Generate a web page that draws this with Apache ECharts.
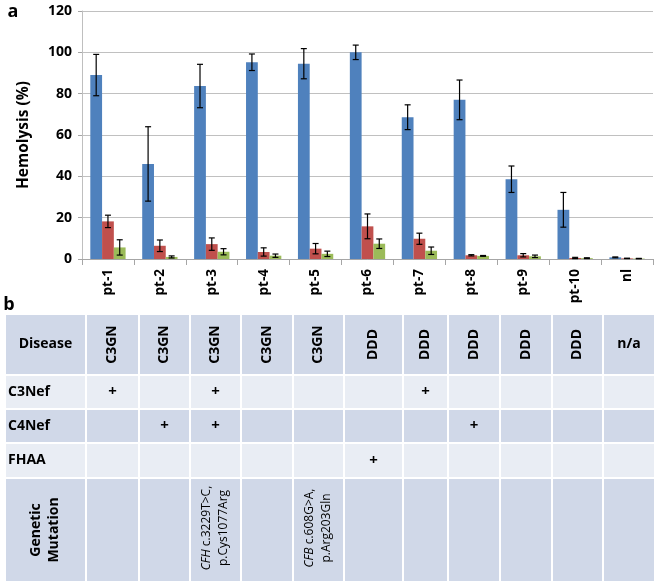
<!DOCTYPE html>
<html>
<head>
<meta charset="utf-8">
<script src="https://cdn.jsdelivr.net/npm/echarts@6/dist/echarts.min.js"></script>
<style>
html,body{margin:0;padding:0;background:#fff;}
#c{width:660px;height:587px;}
</style>
</head>
<body>
<div id="c"></div>
<script>
// ---- Panel a data ----
const categories = ['pt-1','pt-2','pt-3','pt-4','pt-5','pt-6','pt-7','pt-8','pt-9','pt-10','nl'];
const blueVals  = [89, 46, 83.7, 95.2, 94.5, 100, 68.6, 77, 38.6, 23.8, 0.8];
const blueErr   = [10, 18, 10.5, 4, 7.3, 3.5, 6, 9.6, 6.4, 8.4, 0.2];
const redVals   = [18.2, 6.4, 7.2, 3.4, 5, 15.8, 9.8, 1.8, 1.8, 0.5, 0.3];
const redErr    = [3, 2.8, 3, 2, 2.5, 6, 2.7, 0.3, 0.8, 0.3, 0.1];
const greenVals = [5.6, 1.0, 3.5, 1.6, 2.5, 7.4, 4, 1.5, 1.3, 0.4, 0.2];
const greenErr  = [3.7, 0.5, 1.5, 0.8, 1.3, 2.3, 1.8, 0.2, 0.6, 0.2, 0.1];
const yTicks = [0, 20, 40, 60, 80, 100, 120];

// ---- Panel b table data ----
const rowLabels = ['Disease', 'C3Nef', 'C4Nef', 'FHAA', 'Genetic\nMutation'];
const diseases  = ['C3GN','C3GN','C3GN','C3GN','C3GN','DDD','DDD','DDD','DDD','DDD','n/a'];
const c3nef     = ['+','','+','','','','+','','','',''];
const c4nef     = ['','+','+','','','','','+','','',''];
const fhaa      = ['','','','','','+','','','','',''];
const mutGene   = ['','','CFH','','CFB','','','','','',''];
const mutLine1  = ['','',' c.3229T>C,','',' c.608G>A,','','','','','',''];
const mutLine2  = ['','','p.Cys1077Arg','','p.Arg203Gln','','','','','',''];

const FONT = '"Open Sans", sans-serif';
const colors = ['#4F81BD', '#C0504D', '#9BBB59'];
const GAP = 0.32;

function errSeries(vals, errs, idx) {
  return {
    type: 'custom',
    z: 10,
    silent: true,
    data: vals.map((v, i) => [i, v - errs[i], v + errs[i]]),
    renderItem: function (params, api) {
      const band = api.size([1, 0])[0];
      const bw = band * (1 - GAP) / 3;
      const off = (idx - 1) * bw;
      const lo = api.coord([api.value(0), api.value(1)]);
      const hi = api.coord([api.value(0), api.value(2)]);
      const x = lo[0] + off;
      const cap = 3;
      const st = { stroke: '#000', lineWidth: 1.2 };
      return {
        type: 'group',
        children: [
          { type: 'line', shape: { x1: x, y1: lo[1], x2: x, y2: hi[1] }, style: st },
          { type: 'line', shape: { x1: x - cap, y1: lo[1], x2: x + cap, y2: lo[1] }, style: st },
          { type: 'line', shape: { x1: x - cap, y1: hi[1], x2: x + cap, y2: hi[1] }, style: st }
        ]
      };
    }
  };
}

function txt(x, y, text, size, weight, opts) {
  opts = opts || {};
  return {
    type: 'text', x: x, y: y, rotation: opts.rot || 0, z: 2,
    style: Object.assign({
      text: text, fontSize: size, fontWeight: weight, fontFamily: FONT, fill: '#000',
      align: opts.align || 'center', verticalAlign: 'middle', lineHeight: opts.lh || size * 1.25
    }, opts.extra || {})
  };
}

// ---- table graphic ----
const colEdges = [5, 86, 139, 190, 241, 293, 344, 403, 448, 500, 552, 603, 655];
const rowEdges = [314, 375, 409, 443, 478, 582];
const rowFill = ['#D0D8E8', '#E9EDF4', '#D0D8E8', '#E9EDF4', '#D0D8E8'];
const graphics = [];
graphics.push(txt(13, 12, 'a', 18, 'bold'));
graphics.push(txt(9, 305, 'b', 18, 'bold'));
const tableRows = [diseases, c3nef, c4nef, fhaa, null];
for (let r = 0; r < 5; r++) {
  for (let c = 0; c < 12; c++) {
    const x0 = colEdges[c], x1 = colEdges[c + 1], y0 = rowEdges[r], y1 = rowEdges[r + 1];
    graphics.push({
      type: 'rect', shape: { x: x0, y: y0, width: x1 - x0, height: y1 - y0 },
      style: { fill: rowFill[r], stroke: '#fff', lineWidth: 2 }, z: 1
    });
    const cx = (x0 + x1) / 2, cy = (y0 + y1) / 2;
    if (c === 0) {
      if (r === 4) graphics.push(txt(cx, cy, rowLabels[r], 14, 'bold', { rot: Math.PI / 2, lh: 18 }));
      else if (r === 0) graphics.push(txt(cx, cy, rowLabels[r], 14, 'bold'));
      else graphics.push(txt(x0 + 3, cy, rowLabels[r], 14, 'bold', { align: 'left' }));
      continue;
    }
    const k = c - 1;
    if (r === 0) {
      const rot = diseases[k] !== 'n/a';
      graphics.push(txt(cx, cy, diseases[k], 14, 'bold', { rot: rot ? Math.PI / 2 : 0 }));
    } else if (r < 4) {
      const t = tableRows[r][k];
      if (t) graphics.push(txt(cx, cy, t, 15, 'bold'));
    } else if (mutGene[k]) {
      graphics.push(txt(cx, cy - 2, '{i|' + mutGene[k] + '}' + mutLine1[k] + '\n' + mutLine2[k], 12, 'normal', {
        rot: Math.PI / 2, lh: 17,
        extra: { rich: { i: { fontStyle: 'italic', fontSize: 12, fontFamily: FONT, fill: '#000' } } }
      }));
    }
  }
}

const chart = echarts.init(document.getElementById('c'), null, { renderer: 'canvas' });
chart.setOption({
  animation: false,
  textStyle: { fontFamily: FONT },
  grid: { left: 82, right: 7, top: 11, bottom: 328, containLabel: false },
  xAxis: {
    type: 'category',
    data: categories,
    axisLine: { lineStyle: { color: '#A6A6A6', width: 1 } },
    axisTick: { show: true, alignWithLabel: false, length: 6, lineStyle: { color: '#A6A6A6' } },
    axisLabel: { rotate: 90, margin: 10, fontSize: 13.5, fontWeight: 'bold', color: '#000', fontFamily: FONT }
  },
  yAxis: {
    type: 'value',
    min: yTicks[0], max: yTicks[yTicks.length - 1], interval: 20,
    name: 'Hemolysis (%)',
    nameLocation: 'middle',
    nameGap: 50,
    nameTextStyle: { fontSize: 15.5, fontWeight: 'bold', color: '#000', fontFamily: FONT },
    axisLine: { show: true, lineStyle: { color: '#BFBFBF' } },
    axisTick: { show: true, length: 4, lineStyle: { color: '#A6A6A6' } },
    axisLabel: { fontSize: 14, fontWeight: 'bold', color: '#000', margin: 10, fontFamily: FONT },
    splitLine: { lineStyle: { color: '#C0C0C0', width: 1.2 } }
  },
  series: [
    { type: 'bar', data: blueVals, itemStyle: { color: colors[0] }, barGap: '0%', barCategoryGap: (GAP * 100) + '%' },
    { type: 'bar', data: redVals, itemStyle: { color: colors[1] }, barGap: '0%', barCategoryGap: (GAP * 100) + '%' },
    { type: 'bar', data: greenVals, itemStyle: { color: colors[2] }, barGap: '0%', barCategoryGap: (GAP * 100) + '%' },
    errSeries(blueVals, blueErr, 0),
    errSeries(redVals, redErr, 1),
    errSeries(greenVals, greenErr, 2)
  ],
  graphic: graphics
});
</script>
</body>
</html>
